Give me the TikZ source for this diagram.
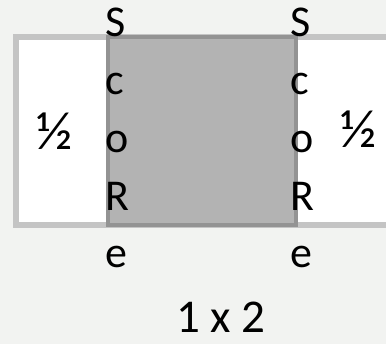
\documentclass[tikz,border=0pt]{standalone}
\usepackage{fontspec}
\setmainfont{Carlito}
\usepackage{tikz}
\usetikzlibrary{positioning}

\definecolor{pagebg}{HTML}{F2F3F1}
\definecolor{framegray}{HTML}{C4C4C4}
\definecolor{midfill}{HTML}{B3B3B3}
\definecolor{midedge}{HTML}{939393}

\begin{document}
\begin{tikzpicture}[
        x=1pt, y=-1pt,
        letter/.style={inner sep=0pt, anchor=base west, font=\fontsize{44}{50}\selectfont},
        half/.style={inner sep=0pt, anchor=base, font=\fontsize{54}{60}\selectfont},
        sidebox/.style={rectangle, draw=framegray, line width=6pt, fill=white, inner sep=0pt},
        midbox/.style={rectangle, draw=midedge, line width=4pt, fill=midfill, inner sep=0pt}
    ]

        % Page
        \useasboundingbox[fill=pagebg] (0,0) rectangle (386,344);

        % Frame (runs off the right edge)
        \node[sidebox, minimum width=400pt, minimum height=188pt] (frame) at (216,131.5) {};

        % Shaded middle part
        \node[midbox, minimum width=188pt, minimum height=188pt] (mid) at (202,131.5) {};

        % Halves
        \node[half] (hl) at (55,150) {½};
        \node[half] (hr) at (359,148) {½};

        % Left column of letters
        \node[letter] (s1) at (105,37) {S};
        \node[letter] (c1) at (105,95) {c};
        \node[letter] (o1) at (105,153) {o};
        \node[letter] (r1) at (105,211) {R};
        \node[letter] (e1) at (105,268) {e};

        % Right column of letters
        \node[letter] (s2) at (290,37) {S};
        \node[letter] (c2) at (290,95) {c};
        \node[letter] (o2) at (290,153) {o};
        \node[letter] (r2) at (290,211) {R};
        \node[letter] (e2) at (290,268) {e};

        % Caption
        \node[inner sep=0pt, anchor=base, font=\fontsize{47}{54}\selectfont] (cap) at (221,333) {1 x 2};

    \end{tikzpicture}
\end{document}
